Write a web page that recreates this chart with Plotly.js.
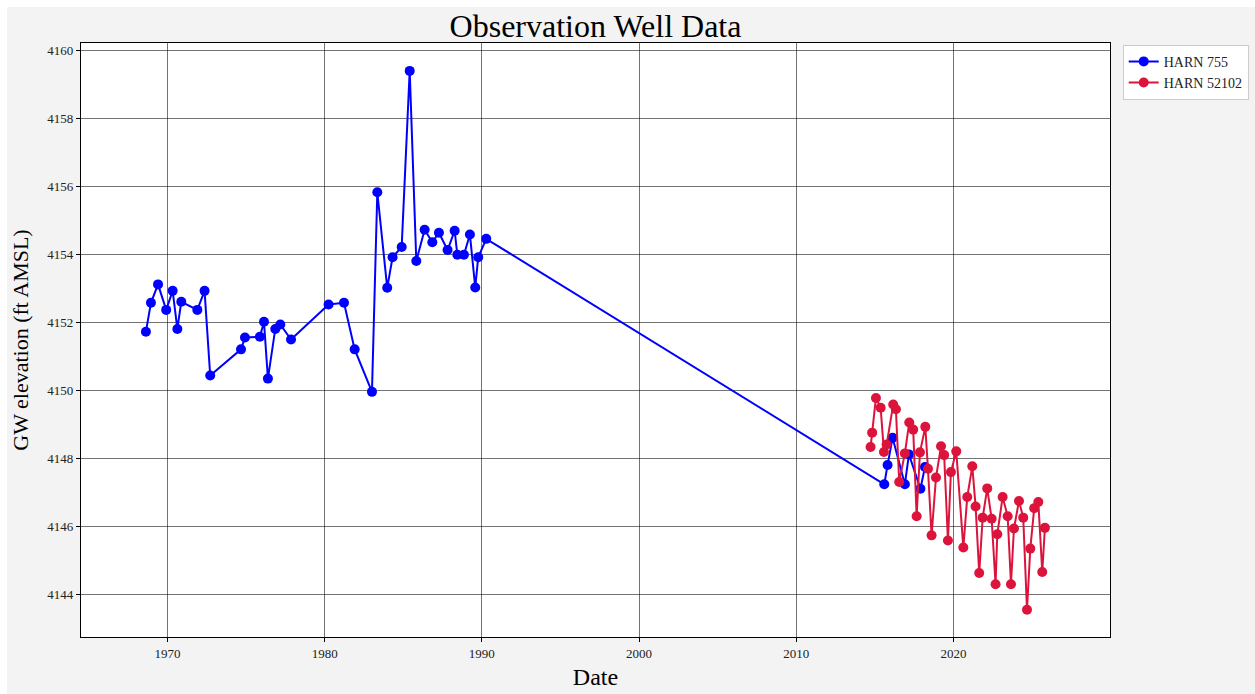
<!DOCTYPE html>
<html>
<head>
<meta charset="utf-8">
<script src="https://cdn.plot.ly/plotly-3.0.1.min.js"></script>
<style>
html,body{margin:0;padding:0;background:#ffffff;overflow:hidden;}
#chart{position:absolute;left:7px;top:7px;width:1248px;height:687px;}
</style>
</head>
<body>
<div id="chart"></div>
<script>
// HARN 755 (decimal years, ft AMSL)
const harn755Dates = [1968.63,1968.95,1969.40,1969.92,1970.33,1970.63,1970.88,1971.90,1972.36,1972.72,
  1974.68,1974.93,1975.88,1976.14,1976.39,1976.86,1977.18,1977.86,1980.25,1981.23,1981.91,1983.01,
  1983.35,1983.98,1984.32,1984.90,1985.41,1985.83,1986.36,1986.85,1987.27,1987.82,1988.27,1988.44,
  1988.86,1989.24,1989.58,1989.77,1990.28,
  2015.60,2015.81,2016.13,2016.91,2017.17,2017.90,2018.19];
const harn755Values = [4151.72,4152.57,4153.11,4152.36,4152.92,4151.80,4152.60,4152.36,4152.92,4150.43,
  4151.20,4151.55,4151.57,4152.01,4150.34,4151.80,4151.93,4151.49,4152.52,4152.57,4151.20,4149.95,
  4155.82,4153.01,4153.91,4154.21,4159.39,4153.80,4154.72,4154.35,4154.63,4154.12,4154.69,4153.98,
  4153.98,4154.58,4153.02,4153.91,4154.45,
  4147.23,4147.80,4148.60,4147.23,4148.11,4147.10,4147.74];

// HARN 52102
const harn52102Dates = [2014.73,2014.83,2015.07,2015.37,2015.58,2015.75,2016.17,2016.34,2016.55,2016.91,
  2017.19,2017.44,2017.66,2017.87,2018.21,2018.38,2018.61,2018.89,2019.21,2019.41,2019.65,2019.84,
  2020.18,2020.63,2020.88,2021.20,2021.41,2021.64,2021.86,2022.15,2022.43,2022.68,2022.79,2023.13,
  2023.45,2023.66,2023.85,2024.17,2024.44,2024.68,2024.89,2025.14,2025.40,2025.65,2025.82];
const harn52102Values = [4148.33,4148.75,4149.77,4149.48,4148.18,4148.40,4149.58,4149.44,4147.30,4148.14,
  4149.05,4148.84,4146.29,4148.17,4148.92,4147.69,4145.73,4147.43,4148.35,4148.09,4145.58,4147.59,
  4148.20,4145.37,4146.86,4147.76,4146.58,4144.62,4146.25,4147.11,4146.22,4144.29,4145.76,4146.86,
  4146.29,4144.29,4145.93,4146.74,4146.25,4143.54,4145.34,4146.53,4146.71,4144.65,4145.95];

const xTickVals = [1970,1980,1990,2000,2010,2020];
const xTickText = ["1970","1980","1990","2000","2010","2020"];
const yTickVals = [4144,4146,4148,4150,4152,4154,4156,4158,4160];

const serif = "Liberation Serif, Times New Roman, serif";

const traces = [
  {x: harn755Dates, y: harn755Values, name: "HARN 755", type: "scatter", mode: "lines+markers",
   line: {color: "#0000ff", width: 2}, marker: {color: "#0000ff", size: 10}},
  {x: harn52102Dates, y: harn52102Values, name: "HARN 52102", type: "scatter", mode: "lines+markers",
   line: {color: "#dc143c", width: 2}, marker: {color: "#dc143c", size: 10}}
];

const axisCommon = {
  showline: true, linecolor: "#000000", linewidth: 1.2, mirror: true,
  ticks: "outside", ticklen: 4, tickcolor: "#000000", tickwidth: 1,
  showgrid: true, gridcolor: "rgba(0,0,0,0.55)", gridwidth: 1, zeroline: false,
  tickfont: {family: serif, size: 13, color: "#222"}
};

const layout = {
  width: 1248, height: 687,
  paper_bgcolor: "#f3f3f3", plot_bgcolor: "#ffffff",
  margin: {l: 74, r: 145, t: 36, b: 57},
  title: {text: "Observation Well Data", font: {family: serif, size: 32, color: "#000"},
          x: 0.5, xref: "paper", xanchor: "center", y: 0.972, yref: "container", yanchor: "middle"},
  xaxis: Object.assign({}, axisCommon, {
    range: [1964.5, 2029.96], tickvals: xTickVals, ticktext: xTickText,
    title: {text: "Date", font: {family: serif, size: 24, color: "#000"}, standoff: 8}
  }),
  yaxis: Object.assign({}, axisCommon, {
    range: [4142.74, 4160.21], tickvals: yTickVals,
    title: {text: "GW elevation (ft AMSL)", font: {family: serif, size: 22, color: "#000"}, standoff: 12}
  }),
  legend: {xref: "container", yref: "container", x: 0.894, y: 0.945, xanchor: "left", yanchor: "top",
           bgcolor: "#ffffff", bordercolor: "#cccccc", borderwidth: 1, tracegroupgap: 0,
           font: {family: serif, size: 14, color: "#222"}},
  showlegend: true
};

Plotly.newPlot("chart", traces, layout, {displayModeBar: false, staticPlot: true});
</script>
</body>
</html>
